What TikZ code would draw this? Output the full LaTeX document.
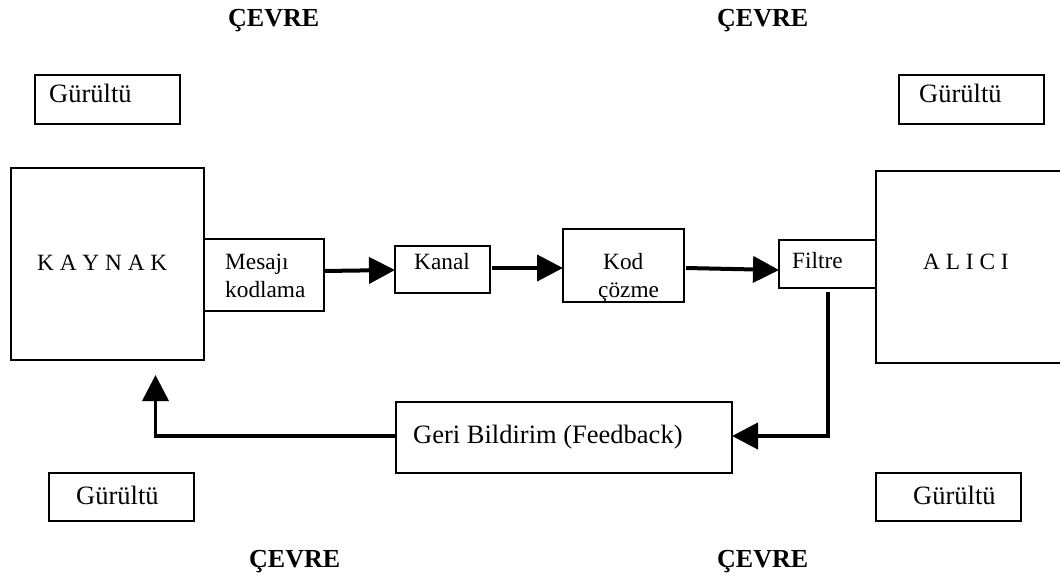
\documentclass[tikz,border=0pt]{standalone}
\usepackage{fontspec}
\setmainfont{Liberation Serif}
\usetikzlibrary{arrows.meta}
\tikzset{
 px/.style={x=1pt,y=-1pt},
 boxn/.style={draw=black,line width=1.6pt,inner sep=0pt,outer sep=0pt},
 head/.style={font=\bfseries\fontsize{26}{30}\selectfont,inner sep=0pt,anchor=base west},
 big/.style={font=\fontsize{26.5}{30}\selectfont,inner sep=0pt,anchor=base west},
 lab/.style={font=\fontsize{23.3}{27}\selectfont,inner sep=0pt,anchor=base west},
 conn/.style={line width=4pt,-{Triangle[length=26pt,width=26pt]}}
}
\newcommand{\bx}[5]{\node[boxn,minimum width=#4pt-#2pt,minimum height=#5pt-#3pt,anchor=north west] (#1) at (#2,#3) {}; }
\begin{document}
\begin{tikzpicture}[px]
\useasboundingbox (0,0) rectangle (1060,581);
\node[head] (h1) at (228,26) {ÇEVRE};
\node[head] (h2) at (717,26) {ÇEVRE};
\node[head] (h3) at (249,567) {ÇEVRE};
\node[head] (h4) at (717,567) {ÇEVRE};
\bx{g1}{35}{75}{180}{124}
\node[big] (g1t) at (49,102) {Gürültü};
\bx{g2}{899}{75}{1044}{124}
\node[big] (g2t) at (919,102) {Gürültü};
\bx{g3}{49}{473}{194}{521}
\node[big] (g3t) at (76,504) {Gürültü};
\bx{g4}{876}{473}{1021}{521}
\node[big] (g4t) at (913,504) {Gürültü};
\bx{k}{11}{168}{204}{360}
\node[lab] (kt) at (37,270) {K A Y N A K};
\bx{m}{204}{239}{324}{311}
\node[lab] (mt1) at (225,269) {Mesajı};
\node[lab] (mt2) at (225,297) {kodlama};
\bx{ka}{395}{246}{490}{293}
\node[lab] (kat) at (414,269) {Kanal};
\bx{c}{563}{229}{684}{302}
\node[lab] (ct1) at (603,269) {Kod};
\node[lab] (ct2) at (598,297) {çözme};
\bx{f}{779}{240}{876}{288}
\node[lab] (ft) at (792,268) {Filtre};
\bx{a}{876}{171}{1064}{363}
\node[lab] (at) at (923,269) {A L I C I};
\bx{gb}{396}{402}{732}{473}
\node[big] (gbt) at (413,443) {Geri Bildirim (Feedback)};
\coordinate (kin) at (155.5,375);
\coordinate (fb) at (828,292);
\coordinate (kaout) at (492,268);
\coordinate (cout) at (686,268);
\draw[conn] (m.east |- 0,271) -- (ka.west |- 0,270);
\draw[conn] (kaout) -- (c.west |- kaout);
\draw[conn] (cout) -- (f.west |- 0,270);
\draw[conn] (fb) -- (828,436) -- (gb.east |- 0,436);
\draw[conn,line width=3.6pt] (gb.west |- 0,436) -- (kin |- 0,436) -- (kin);
\end{tikzpicture}
\end{document}
